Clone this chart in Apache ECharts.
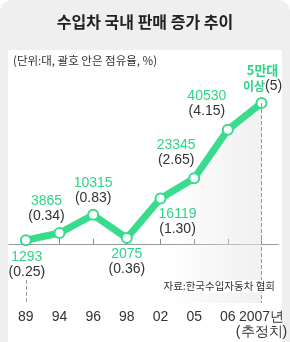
<!DOCTYPE html>
<html>
<head>
<meta charset="utf-8">
<script src="https://cdn.jsdelivr.net/npm/echarts@6/dist/echarts.min.js"></script>
<style>
  html, body { margin: 0; padding: 0; background: #fff; }
  #chart { width: 290px; height: 342px; }
</style>
</head>
<body>
<div id="chart"></div>
<script>
// 연도별 수입차 판매 (대) 와 점유율 (%)
const years = ['89', '94', '96', '98', '02', '05', '06', '2007년\n(추정치)'];
const sales = [1293, 3865, 10315, 2075, 16119, 23345, 40530, 50000];
const salesText = ['1293', '3865', '10315', '2075', '16119', '23345', '40530', '5만대'];
const shares = ['0.25', '0.34', '0.83', '0.36', '1.30', '2.65', '4.15', '5'];

const GREEN = '#38dc8c';
const TEXT_GREEN = '#2fd487';
const NUM_FONT = '"Liberation Sans Narrow", "Liberation Sans", Arial, sans-serif';
const KR_FONT = '"Noto Sans CJK KR", sans-serif';

// 라벨 위치: [position, distance, offsetX]
const labelPlace = [
  ['bottom', 3, 1],
  ['top', 3, -13],
  ['top', 3, 0],
  ['bottom', 3, 0],
  ['bottom', 2, 17],
  ['top', 4, -18],
  ['top', 5, -21],
  ['top', 3, 1]
];

const chart = echarts.init(document.getElementById('chart'));

const points = sales.map((v, i) => {
  const p = labelPlace[i];
  const last = i === sales.length - 1;
  return {
    value: v,
    label: {
      show: true,
      position: p[0],
      distance: p[1],
      offset: [p[2], 0],
      align: 'center',
      formatter: last
        ? '{big|' + salesText[i] + '}\n{kg|이상}{k|(' + shares[i] + ')}'
        : '{g|' + salesText[i] + '}\n{k|(' + shares[i] + ')}',
      rich: {
        g: { color: TEXT_GREEN, fontFamily: NUM_FONT, fontSize: 14, lineHeight: 15, align: 'center' },
        k: { color: '#333', fontFamily: NUM_FONT, fontSize: 14, lineHeight: 15 },
        big: { color: TEXT_GREEN, fontFamily: KR_FONT, fontWeight: 'bold', fontSize: 13, lineHeight: 16, align: 'center' },
        kg: { color: TEXT_GREEN, fontFamily: KR_FONT, fontWeight: 'bold', fontSize: 12, lineHeight: 16 }
      }
    }
  };
});

const option = {
  backgroundColor: '#fff',
  animation: false,
  graphic: [
    {
      type: 'rect', z: -10, silent: true,
      shape: { x: 0, y: 0, width: 290, height: 342, r: [12, 12, 0, 0] },
      style: { fill: '#efefef' }
    },
    {
      type: 'rect', z: -9, silent: true,
      shape: { x: 8, y: 50, width: 274, height: 292 },
      style: { fill: '#fff' }
    },
    {
      type: 'text', left: 'center', top: 14,
      style: { text: '수입차 국내 판매 증가 추이', fontFamily: KR_FONT, fontWeight: 'bold', fontSize: 16, fill: '#222' }
    },
    {
      type: 'text', left: 13, top: 55,
      style: { text: '(단위:대, 괄호 안은 점유율, %)', fontFamily: KR_FONT, fontSize: 11.5, fill: '#333' }
    },
    {
      type: 'text', right: 15, top: 280, z: 100,
      style: {
        text: '자료:한국수입자동차 협회', fontFamily: KR_FONT, fontSize: 10.5, fill: '#333',
        backgroundColor: '#fff', padding: [1, 0, 1, 1]
      }
    }
  ],
  grid: { left: 9, right: 9, top: 89, bottom: 39 },
  xAxis: {
    type: 'category',
    data: years,
    boundaryGap: true,
    axisLine: { lineStyle: { color: '#999', width: 1 } },
    axisTick: { show: true, inside: true, alignWithLabel: true, length: 5, lineStyle: { color: '#888' } },
    axisLabel: {
      color: '#333', fontFamily: NUM_FONT, fontSize: 14, lineHeight: 15, margin: 7, interval: 0
    }
  },
  yAxis: {
    type: 'value',
    min: -21000,
    max: 55000,
    show: false,
    splitLine: { show: false }
  },
  series: [{
    type: 'line',
    data: points,
    symbol: 'circle',
    symbolSize: 10,
    lineStyle: { color: GREEN, width: 7 },
    itemStyle: { color: '#fff', borderColor: GREEN, borderWidth: 2 },
    areaStyle: {
      origin: 'start',
      color: new echarts.graphic.LinearGradient(0, 0, 1, 0, [
        { offset: 0, color: 'rgba(230,230,230,0)' },
        { offset: 0.6, color: 'rgba(230,230,230,0)' },
        { offset: 1, color: 'rgba(232,232,232,0.9)' }
      ])
    },
    markLine: {
      silent: true,
      symbol: 'none',
      label: { show: false },
      lineStyle: { color: '#999', type: 'dashed', width: 1 },
      data: [
        [{ coord: [years[0], -12800] }, { coord: [years[0], -21000] }],
        [{ coord: [years[7], sales[7]] }, { coord: [years[7], -21000] }]
      ]
    },
    z: 3
  }]
};

chart.setOption(option);
</script>
</body>
</html>
